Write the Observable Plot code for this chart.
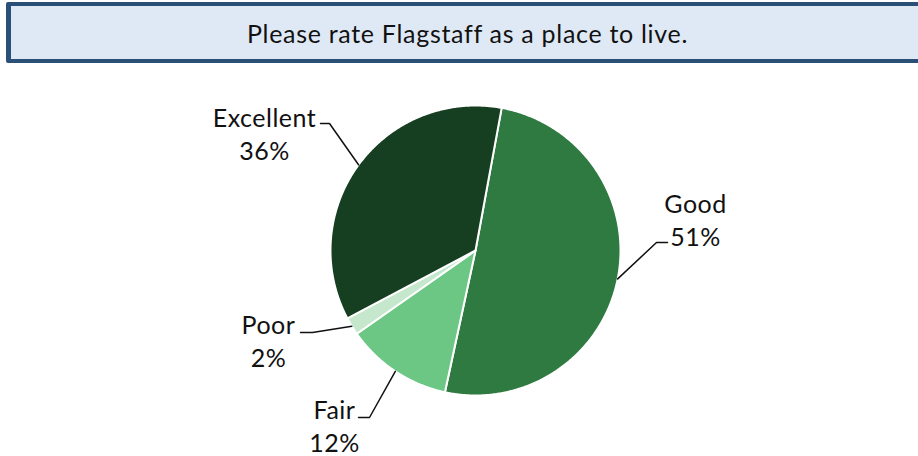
<!DOCTYPE html>
<html>
<head>
<meta charset="utf-8">
<script src="https://cdn.jsdelivr.net/npm/d3@7"></script>
<script src="https://cdn.jsdelivr.net/npm/@observablehq/plot@0.6"></script>
<style>
  html, body { margin: 0; padding: 0; background: #fff; overflow: hidden; width: 918px; height: 456px; }
  #title {
    box-sizing: border-box;
    margin: 2px 0 0 6px;
    width: 922px;
    height: 61px;
    background: #dfe9f5;
    border: 4px solid #2a5078;
    border-left-width: 5px;
    border-radius: 2px;
    font-family: Lato, "Open Sans", sans-serif;
    font-size: 25px;
    letter-spacing: 0.7px;
    color: #111;
    display: flex;
    align-items: center;
    justify-content: center;
  }
  #chart { margin-top: 3px; }
  #chart svg { display: block; }
</style>
</head>
<body>
<div id="title">Please rate Flagstaff as a place to live.</div>
<div id="chart"></div>
<script>
// ---- data ----
const categories = ["Good", "Fair", "Poor", "Excellent"];
const percents = [51, 12, 2, 36];
const colors = ["#2e7a40", "#6bc783", "#c5e8cd", "#163e20"];

// ---- layout ----
const W = 918, H = 390;
const cx = 475, cy = 184, R = 145;
const startDeg = 10.4;
// label block centre and leader elbow / end, per category
const labelLayout = {
  Good:      {tx: 695, ty: 152, ex: 656, ey: 176, lx: 667, ly: 176},
  Fair:      {tx: 334, ty: 358, ex: 369, ey: 351, lx: 358, ly: 351},
  Poor:      {tx: 268, ty: 273, ex: 312, ey: 266, lx: 300, ly: 266},
  Excellent: {tx: 264, ty: 66,  ex: 329, ey: 57,  lx: 320, ly: 57}
};

const data = categories.map((c, i) => ({category: c, value: percents[i], color: colors[i]}));
const a0 = startDeg * Math.PI / 180;
const arcs = d3.pie().sort(null).value(d => d.value).startAngle(a0).endAngle(a0 + 2 * Math.PI)(data);

const pt = (a, r) => ({x: cx + r * Math.sin(a), y: cy - r * Math.cos(a)});

const marks = [];
for (const arc of arcs) {
  const pts = [{x: cx, y: cy}];
  const n = Math.max(4, Math.ceil((arc.endAngle - arc.startAngle) / (Math.PI / 360)));
  for (let k = 0; k <= n; k++) {
    pts.push(pt(arc.startAngle + (arc.endAngle - arc.startAngle) * k / n, R));
  }
  pts.push({x: cx, y: cy});
  marks.push(Plot.line(pts, {x: "x", y: "y", fill: arc.data.color, stroke: "white", strokeWidth: 2, strokeLinejoin: "round"}));
}

// leader lines
for (const arc of arcs) {
  const L = labelLayout[arc.data.category];
  const mid = (arc.startAngle + arc.endAngle) / 2;
  const p = pt(mid, R);
  const pts = [p, {x: L.ex, y: L.ey}, {x: L.lx, y: L.ly}];
  marks.push(Plot.line(pts, {x: "x", y: "y", stroke: "#111", strokeWidth: 1.5}));
}

// labels
const labels = arcs.map(arc => ({
  x: labelLayout[arc.data.category].tx,
  y: labelLayout[arc.data.category].ty,
  text: arc.data.category + "\n" + arc.data.value + "%"
}));
marks.push(Plot.text(labels, {x: "x", y: "y", text: "text", fontSize: 25, lineHeight: 1.32, fill: "#111", textAnchor: "middle", lineAnchor: "middle"}));

const chart = Plot.plot({
  width: W,
  height: H,
  margin: 0,
  x: {type: "linear", domain: [0, W], range: [0, W], axis: null},
  y: {type: "linear", domain: [0, H], range: [0, H], axis: null},
  style: {fontFamily: "Lato, 'Open Sans', sans-serif", letterSpacing: "0.5px", background: "white"},
  marks
});
document.getElementById("chart").appendChild(chart);
</script>
</body>
</html>
